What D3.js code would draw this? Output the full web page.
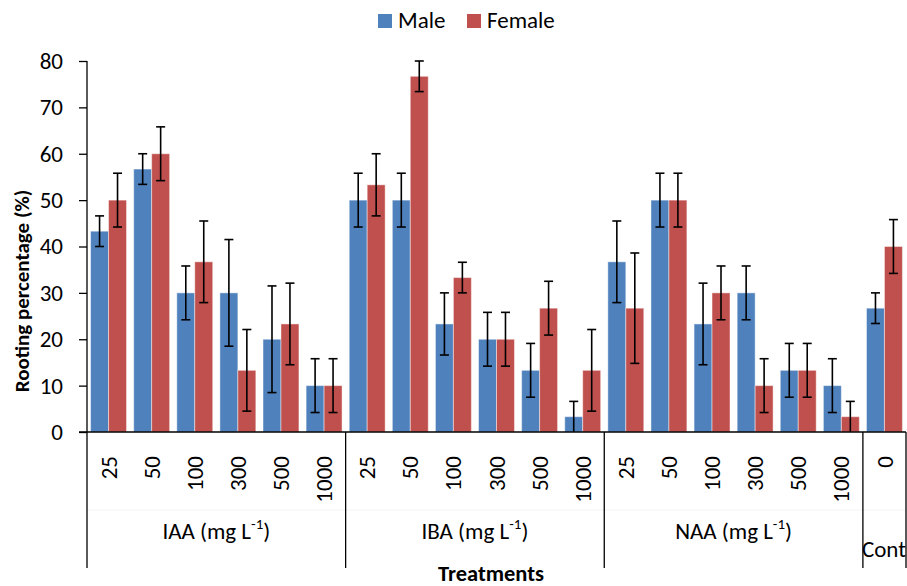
<!DOCTYPE html>
<html>
<head>
<meta charset="utf-8">
<script src="https://cdn.jsdelivr.net/npm/d3@7"></script>
<style>
  html, body { margin: 0; padding: 0; background: #fff; }
  svg { display: block; font-family: Carlito, Calibri, "Open Sans", sans-serif; }
</style>
</head>
<body>
<svg id="chart" width="907" height="586"></svg>
<script>
// ---- data ----
const groups = ["IAA", "IBA", "NAA", "Control"];
const groupSizes = [6, 6, 6, 1];
const doses = ["25","50","100","300","500","1000","25","50","100","300","500","1000","25","50","100","300","500","1000","0"];
const seriesNames = ["Male", "Female"];
const maleValues   = [43.3, 56.7, 30, 30, 20, 10,   50, 50, 23.3, 20, 13.3, 3.3,   36.7, 50, 23.3, 30, 13.3, 10,   26.7];
const femaleValues = [50, 60, 36.7, 13.3, 23.3, 10,   53.3, 76.7, 33.3, 20, 26.7, 13.3,   26.7, 50, 30, 10, 13.3, 3.3,   40];
const maleErr   = [3.3, 3.3, 5.8, 11.5, 11.5, 5.8,   5.8, 5.8, 6.7, 5.8, 5.8, 3.3,   8.8, 5.8, 8.8, 5.8, 5.8, 5.8,   3.3];
const femaleErr = [5.8, 5.8, 8.8, 8.8, 8.8, 5.8,   6.7, 3.3, 3.3, 5.8, 5.8, 8.8,   11.9, 5.8, 5.8, 5.8, 5.8, 3.3,   5.8];
const yTicks = [0, 10, 20, 30, 40, 50, 60, 70, 80];
const colors = ["#4F81BD", "#C0504D"];

(function () {
const FS = 23;
// ---- build category keys ----
const catGroup = [];
groups.forEach((g, i) => { for (let k = 0; k < groupSizes[i]; k++) catGroup.push(g); });
const keys = doses.map((d, i) => catGroup[i] + "-" + d);
const rows = keys.map((k, i) => ({
  key: k, dose: doses[i], group: catGroup[i],
  vals: [
    { s: "Male", v: maleValues[i], e: maleErr[i] },
    { s: "Female", v: femaleValues[i], e: femaleErr[i] }
  ]
}));

const svg = d3.select("#chart");
const pLeft = 87, pRight = 906, pTop = 61, pBottom = 432, lowerEnd = 568;

const x = d3.scaleBand().domain(keys).range([pLeft, pRight]).padding(0);
const xs = d3.scaleBand().domain(seriesNames).range([0, x.bandwidth()]).paddingInner(0).paddingOuter(0.2);
const y = d3.scaleLinear().domain([0, 80]).range([pBottom, pTop]);
const color = d3.scaleOrdinal().domain(seriesNames).range(colors);

// faint divider between tick labels and group labels
svg.append("line").attr("x1", pLeft).attr("x2", pRight).attr("y1", 510).attr("y2", 510)
  .attr("stroke", "#f4f4f4").attr("stroke-width", 1);

// bars
const cat = svg.append("g").selectAll("g").data(rows).join("g")
  .attr("transform", d => `translate(${x(d.key)},0)`);
cat.selectAll("rect").data(d => d.vals).join("rect")
  .attr("x", d => xs(d.s))
  .attr("y", d => y(d.v))
  .attr("width", xs.bandwidth())
  .attr("height", d => y(0) - y(d.v))
  .attr("fill", d => color(d.s))
  .attr("stroke", "rgba(255,255,255,0.45)")
  .attr("stroke-width", 1);

// error bars
const eb = cat.selectAll("g.err").data(d => d.vals).join("g").attr("class", "err")
  .attr("transform", d => `translate(${xs(d.s) + xs.bandwidth() / 2},0)`);
eb.append("line").attr("x1", 0).attr("x2", 0)
  .attr("y1", d => y(Math.max(0, d.v - d.e))).attr("y2", d => y(d.v + d.e))
  .attr("stroke", "#000").attr("stroke-width", 1.6);
eb.append("line").attr("x1", -4.5).attr("x2", 4.5)
  .attr("y1", d => y(d.v + d.e)).attr("y2", d => y(d.v + d.e))
  .attr("stroke", "#000").attr("stroke-width", 1.6);
eb.filter(d => d.v - d.e > 0.2).append("line").attr("x1", -4.5).attr("x2", 4.5)
  .attr("y1", d => y(d.v - d.e)).attr("y2", d => y(d.v - d.e))
  .attr("stroke", "#000").attr("stroke-width", 1.6);

// y axis
const yAxis = d3.axisLeft(y).tickValues(yTicks).tickSize(8).tickPadding(16);
const ya = svg.append("g").attr("transform", `translate(${pLeft},0)`).call(yAxis);
ya.select(".domain").attr("stroke", "#000").attr("stroke-width", 1.3).attr("d", `M0,${pTop}V${pBottom}`);
ya.selectAll(".tick line").attr("stroke", "#000").attr("stroke-width", 1.3);
ya.selectAll(".tick text").attr("font-size", FS).attr("fill", "#000")
  .attr("font-family", "Carlito, Calibri, 'Open Sans', sans-serif");

// x axis baseline
svg.append("line").attr("x1", pLeft - 8).attr("x2", pRight).attr("y1", pBottom).attr("y2", pBottom)
  .attr("stroke", "#000").attr("stroke-width", 1.3);

// group boundaries
const bounds = [0];
groupSizes.reduce((acc, n) => { bounds.push(acc + n); return acc + n; }, 0);
svg.append("g").selectAll("line").data(bounds).join("line")
  .attr("x1", i => i < keys.length ? x(keys[i]) : pRight)
  .attr("x2", i => i < keys.length ? x(keys[i]) : pRight)
  .attr("y1", pBottom).attr("y2", lowerEnd)
  .attr("stroke", "#000").attr("stroke-width", 1.3);

// dose tick labels (rotated)
svg.append("g").selectAll("text").data(rows).join("text")
  .attr("transform", d => `translate(${x(d.key) + x.bandwidth() / 2},456) rotate(-90)`)
  .attr("text-anchor", "end").attr("dy", "0.35em")
  .attr("font-size", FS).attr("fill", "#000")
  .text(d => d.dose);

// group labels
groups.forEach((g, i) => {
  const x0 = x(keys[bounds[i]]);
  const x1 = bounds[i + 1] < keys.length ? x(keys[bounds[i + 1]]) : pRight;
  if (g === "Control") {
    svg.append("text").attr("x", x0 - 1).attr("y", 557).attr("font-size", FS).attr("fill", "#000").text("Control");
  } else {
    const t = svg.append("text").attr("x", (x0 + x1) / 2).attr("y", 539)
      .attr("text-anchor", "middle").attr("font-size", FS).attr("fill", "#000");
    t.append("tspan").text(g + " (mg L");
    t.append("tspan").attr("font-size", 15).attr("dy", -10).text("-1");
    t.append("tspan").attr("dy", 10).text(")");
  }
});

// axis titles
svg.append("text").attr("transform", "translate(29,291) rotate(-90)")
  .attr("text-anchor", "middle").attr("font-size", 21).attr("font-weight", "bold").attr("fill", "#000")
  .text("Rooting percentage (%)");
svg.append("text").attr("x", 491).attr("y", 581)
  .attr("text-anchor", "middle").attr("font-size", 22.5).attr("font-weight", "bold").attr("fill", "#000")
  .text("Treatments");

// legend
const legX = [378, 467];
const leg = svg.append("g").selectAll("g").data(seriesNames).join("g")
  .attr("transform", (d, i) => `translate(${legX[i]},14)`);
leg.append("rect").attr("width", 14).attr("height", 14).attr("fill", d => color(d));
leg.append("text").attr("x", 20).attr("y", 14).attr("font-size", FS).attr("fill", "#000").text(d => d);
})();
</script>
</body>
</html>
